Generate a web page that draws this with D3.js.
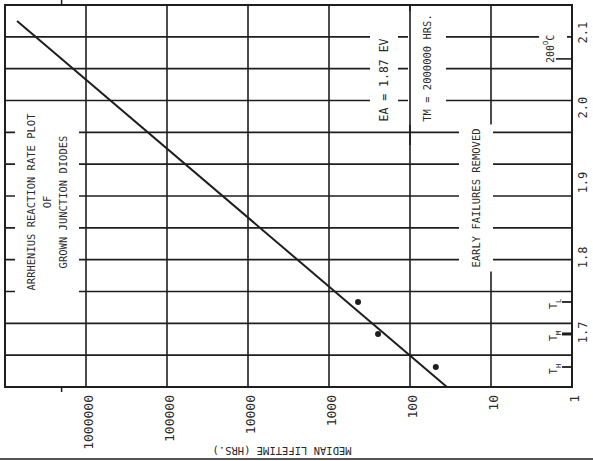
<!DOCTYPE html>
<html>
<head>
<meta charset="utf-8">
<script src="https://cdn.jsdelivr.net/npm/d3@7"></script>
<style>
	html, body { margin: 0; padding: 0; background: #fff; }
	svg text { font-family: "DejaVu Sans Mono", "Liberation Mono", monospace; fill: #2a2a2a; }
</style>
</head>
<body>
<script>
	// подписи оси времени (часы)
	const hourTicks = [1e6, 1e5, 1e4, 1e3, 100, 10, 1];
	const hourLabels = ["1000000", "100000", "10000", "1000", "100", "10", "1"];

	// подписи оси 1000/T
	const invTTicks = [2.1, 2.0, 1.9, 1.8, 1.7];
	const invTLabels = ["2.1", "2.0", "1.9", "1.8", "1.7"];

	// испытательные температуры и медианное время жизни
	const testNames = ["L", "M", "H"];
	const testInvT = [1.7405, 1.6978, 1.6537];
	const medianHours = [438, 248, 48];

	// прямая аррениуса (концы)
	const fitHours = [7.1e6, 35];
	const fitInvT = [2.1157, 1.627];

	// TM при 200°C
	const tmHours = 2e6;

	const w = 593,
		h = 461;

	const x = d3.scaleLog().domain([1e7, 1]).range([5, 572]),
		y = d3.scaleLinear().domain([1.627, 2.137]).range([387, 5]);

	const ink = "#1e1e1e";

	const svg = d3
		.select("body")
		.append("svg")
		.attr("width", w)
		.attr("height", h);

	// горизонтальная сетка (бумага) - 12 полос
	const [v0, v1] = y.domain();
	const gridV = d3.range(1, 12).map(i => v0 + (i * (v1 - v0)) / 12);

	svg
		.append("g")
		.selectAll("line")
		.data(gridV)
		.enter()
		.append("line")
		.attr("x1", x.range()[0])
		.attr("x2", x.range()[1])
		.attr("y1", d => y(d))
		.attr("y2", d => y(d))
		.attr("stroke", ink)
		.attr("stroke-width", 1.7);

	// вертикальная сетка по декадам
	svg
		.append("g")
		.selectAll("line")
		.data(hourTicks.slice(0, -1))
		.enter()
		.append("line")
		.attr("x1", d => x(d))
		.attr("x2", d => x(d))
		.attr("y1", y.range()[1])
		.attr("y2", y.range()[0])
		.attr("stroke", ink)
		.attr("stroke-width", 1.6);

	// рамка
	svg
		.append("rect")
		.attr("x", x.range()[0])
		.attr("y", y.range()[1])
		.attr("width", x.range()[1] - x.range()[0])
		.attr("height", y.range()[0] - y.range()[1])
		.attr("fill", "none")
		.attr("stroke", ink)
		.attr("stroke-width", 2);

	// текст, повернутый снизу вверх, с белой подложкой (разрывы сетки)
	const notes = svg.append("g");

	function note(lines, cx, cy, size, padX, padY, gap) {
		const g = notes.append("g");
		const bg = g.append("rect").attr("fill", "#fff");
		const t = g.append("g");
		lines.forEach((s, i) => {
			t.append("text")
				.attr("transform", `translate(${cx + i * gap},${cy}) rotate(-90)`)
				.attr("text-anchor", "middle")
				.attr("dominant-baseline", "central")
				.attr("font-size", size)
				.text(s);
		});
		const b = t.node().getBBox();
		bg.attr("x", b.x - padX)
			.attr("y", b.y - padY)
			.attr("width", b.width + 2 * padX)
			.attr("height", b.height + 2 * padY);
		return g;
	}

	note(["ARRHENIUS REACTION RATE PLOT", "OF", "GROWN JUNCTION DIODES"], 31, 202, 10.5, 10, 4, 16);
	note(["EA = 1.87 EV"], 384, 80, 11.5, 7, 3, 0);
	note(["TM = 2000000 HRS."], 427, 68, 10.5, 13, 3, 0);
	note(["EARLY FAILURES REMOVED"], 476, 198, 10.5, 11, 4, 0);

	// вертикаль через сетку между EA и TM восстанавливаем
	svg
		.append("line")
		.attr("x1", x(100))
		.attr("x2", x(100))
		.attr("y1", y.range()[1])
		.attr("y2", y(1.95))
		.attr("stroke", ink)
		.attr("stroke-width", 1.6);

	// TM при 200°C: точка на прямой
	const tmT =
		(Math.log10(tmHours) - Math.log10(fitHours[0])) /
		(Math.log10(fitHours[1]) - Math.log10(fitHours[0]));
	const tmInvT = fitInvT[0] + tmT * (fitInvT[1] - fitInvT[0]);

	// подпись 200°C
	const c200 = svg.append("g");
	c200.append("rect")
		.attr("x", 539)
		.attr("y", y(tmInvT) - 26)
		.attr("width", 28)
		.attr("height", 30)
		.attr("fill", "#fff");
	const t200 = c200
		.append("text")
		.attr("transform", `translate(550,${y(tmInvT) - 10}) rotate(-90)`)
		.attr("text-anchor", "middle")
		.attr("dominant-baseline", "central")
		.attr("font-size", 10);
	t200.append("tspan").text("200");
	t200.append("tspan").attr("dy", -4).attr("font-size", 7).text("O");
	t200.append("tspan").attr("dy", 4).text("C");

	c200.append("line")
		.attr("x1", 556)
		.attr("x2", x.range()[1])
		.attr("y1", y(tmInvT))
		.attr("y2", y(tmInvT))
		.attr("stroke", ink)
		.attr("stroke-width", 1.6);

	// засечки TM сверху и снизу
	svg
		.append("g")
		.selectAll("line")
		.data([[0, y.range()[1]], [y.range()[0], y.range()[0] + 5]])
		.enter()
		.append("line")
		.attr("x1", x(tmHours))
		.attr("x2", x(tmHours))
		.attr("y1", d => d[0])
		.attr("y2", d => d[1])
		.attr("stroke", ink)
		.attr("stroke-width", 1.5);

	// прямая
	const fit = fitHours.map((v, i) => ({ h: v, v: fitInvT[i] }));

	svg
		.append("path")
		.datum(fit)
		.attr("d", d3.line().x(d => x(d.h)).y(d => y(d.v)))
		.attr("stroke", ink)
		.attr("stroke-width", 2)
		.attr("fill", "none");

	// точки
	const points = medianHours.map((v, i) => ({ h: v, v: testInvT[i], name: testNames[i] }));

	svg
		.append("g")
		.selectAll("circle")
		.data(points)
		.enter()
		.append("circle")
		.attr("cx", d => x(d.h))
		.attr("cy", d => y(d.v))
		.attr("r", 3)
		.attr("fill", ink);

	// засечки T_L, T_M, T_H на правой оси
	const tMarks = svg.append("g");

	tMarks
		.selectAll("line")
		.data(points)
		.enter()
		.append("line")
		.attr("x1", 562)
		.attr("x2", x.range()[1])
		.attr("y1", d => y(d.v))
		.attr("y2", d => y(d.v))
		.attr("stroke", ink)
		.attr("stroke-width", d => (d.name === "M" ? 3 : 1.8));

	tMarks
		.selectAll("text")
		.data(points)
		.enter()
		.append("text")
		.attr("transform", d => `translate(553,${y(d.v) + 2}) rotate(-90)`)
		.attr("text-anchor", "middle")
		.attr("dominant-baseline", "central")
		.attr("font-size", 10)
		.each(function (d) {
			const t = d3.select(this);
			t.append("tspan").text("T");
			t.append("tspan").attr("dy", 6).attr("font-size", 7).text(d.name);
		});

	// подписи оси 1000/T справа
	svg
		.append("g")
		.selectAll("text")
		.data(invTTicks)
		.enter()
		.append("text")
		.attr("transform", d => `translate(583,${y(d)}) rotate(-90)`)
		.attr("text-anchor", "middle")
		.attr("dominant-baseline", "central")
		.attr("font-size", 12)
		.text((d, i) => invTLabels[i]);

	// подписи оси часов снизу
	svg
		.append("g")
		.selectAll("text")
		.data(hourTicks)
		.enter()
		.append("text")
		.attr("transform", d => `translate(${x(d) + 2},${y.range()[0] + 8}) rotate(-90)`)
		.attr("text-anchor", "end")
		.attr("dominant-baseline", "central")
		.attr("font-size", 13)
		.text((d, i) => hourLabels[i]);

	// название оси (перевернуто)
	svg
		.append("text")
		.attr("transform", `translate(282,451) rotate(180)`)
		.attr("text-anchor", "middle")
		.attr("dominant-baseline", "central")
		.attr("font-size", 10.5)
		.text("MEDIAN LIFETIME (HRS.)");

	// край скана
	svg
		.append("line")
		.attr("x1", 0)
		.attr("x2", w)
		.attr("y1", 459)
		.attr("y2", 459)
		.attr("stroke", "#555")
		.attr("stroke-width", 2);
</script>
</body>
</html>
